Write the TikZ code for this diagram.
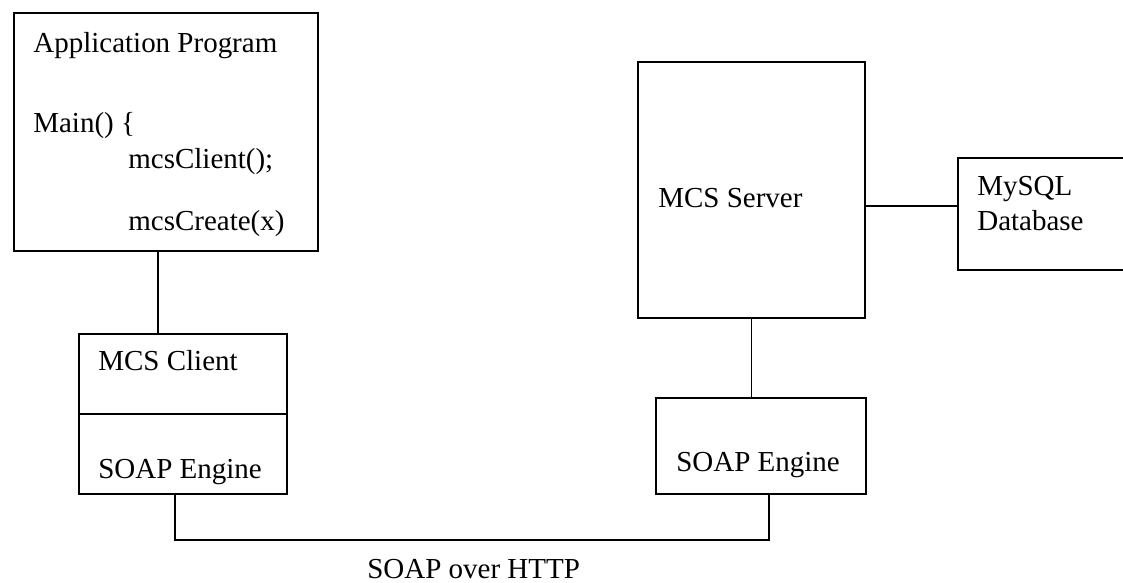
\documentclass[tikz,border=0pt]{standalone}
\usepackage{fontspec}
\setmainfont{Liberation Serif}

\tikzset{
    box/.style={draw, line width=1.1pt, rectangle, inner sep=0pt, anchor=north west},
    lbl/.style={inner sep=0pt, anchor=base west, font=\fontsize{16.5}{19}\selectfont},
    wire/.style={line width=1pt}
}

\begin{document}
\begin{tikzpicture}[x=0.02cm, y=-0.02cm]
            \useasboundingbox (0,0) rectangle (1123,582);
            \clip (0,0) rectangle (1123,582);

            %Nodes
            \node[box, minimum width=6.08cm, minimum height=4.76cm] at (13,12)  (app)    {};
            \node[box, minimum width=4.16cm, minimum height=1.6cm]  at (78,333) (client) {};
            \node[box, minimum width=4.16cm, minimum height=1.6cm]  at (78,413) (csoap)  {};
            \node[box, minimum width=4.54cm, minimum height=5.12cm] at (637,61) (server) {};
            \node[box, minimum width=4.2cm,  minimum height=1.92cm] at (655,397) (ssoap) {};
            \node[box, minimum width=3.66cm, minimum height=2.24cm] at (957,157) (mysql) {};
            \coordinate (bus) at (470,540);

            %Texts
            \node[lbl] at (33,52)   (apptxt)  {Application Program};
            \node[lbl] at (33,132)  (maintxt) {Main() \{};
            \node[lbl] at (128,168) (calltxt) {mcsClient();};
            \node[lbl] at (128,230) (crtxt)   {mcsCreate(x)};
            \node[lbl] at (98,370)  (clitxt)  {MCS Client};
            \node[lbl] at (98,478)  (cstxt)   {SOAP Engine};
            \node[lbl] at (658,207) (srvtxt)  {MCS Server};
            \node[lbl] at (676,471) (sstxt)   {SOAP Engine};
            \node[lbl] at (977,195) (dbtxt)   {MySQL};
            \node[lbl] at (977,230) (dbtxtb)  {Database};
            \node[lbl] at (367,578) (http)    {SOAP over HTTP};

            %Lines
            \draw[wire] ([xshift=-0.16cm]app.south) -- ([xshift=-0.16cm]app.south |- client.north);
            \draw[wire] (server.south) -- (server.south |- ssoap.north);
            \draw[wire] ([yshift=-0.32cm]server.east) -- ([yshift=-0.32cm]server.east -| mysql.west);
            \draw[wire] ([xshift=-0.16cm]csoap.south) |- (bus) -| ([xshift=0.16cm]ssoap.south);
        \end{tikzpicture}
\end{document}
